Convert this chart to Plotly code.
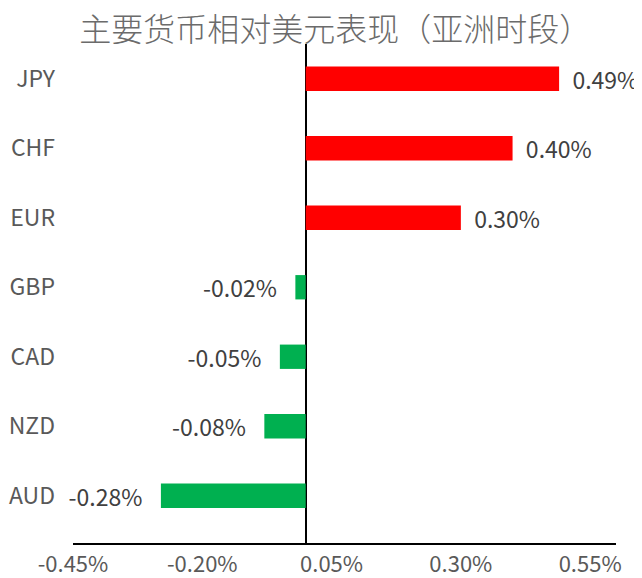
import plotly.graph_objects as go

# currency moves vs USD, Asian session
currencies = ["AUD", "NZD", "CAD", "GBP", "EUR", "CHF", "JPY"]
changes = [-0.28, -0.08, -0.05, -0.02, 0.30, 0.40, 0.49]
x_ticks = [-0.45, -0.20, 0.05, 0.30, 0.55]

colors = ["#FF0000" if v > 0 else "#00B050" for v in changes]
# pad the labels a little away from the bar ends
labels = [("  %.2f%%" % v) if v > 0 else ("%.2f%%   " % v) for v in changes]

font_name = "Noto Sans CJK SC"

# page body has an 8px margin, so the figure is 8px smaller each way
fig = go.Figure()
fig.add_trace(go.Bar(
    x=changes,
    y=currencies,
    orientation="h",
    marker=dict(color=colors, line=dict(width=0)),
    width=0.35,
    text=labels,
    textposition="outside",
    constraintext="none",
    textfont=dict(size=23, color="#404040", family=font_name),
    cliponaxis=False,
    hoverinfo="skip",
))

fig.update_layout(
    width=634,
    height=570,
    margin=dict(l=65, r=26, t=36, b=35, autoexpand=False),
    paper_bgcolor="white",
    plot_bgcolor="white",
    showlegend=False,
    font=dict(family=font_name, color="#595959"),
    title=dict(
        text="主要货币相对美元表现（亚洲时段）",
        x=0.516,
        xanchor="center",
        y=0.961,
        yanchor="middle",
        font=dict(size=32, color="#6b6b6b", family=font_name, weight=300),
    ),
)

fig.update_xaxes(
    range=[-0.45, 0.6],
    tickmode="array",
    tickvals=x_ticks,
    ticktext=["%.2f%%" % v for v in x_ticks],
    tickfont=dict(size=22, color="#595959"),
    showgrid=False,
    zeroline=True,
    zerolinecolor="black",
    zerolinewidth=2,
    showline=True,
    linecolor="black",
    linewidth=2,
    ticks="",
    ticklabelstandoff=1,
    automargin=False,
)

fig.update_yaxes(
    type="category",
    categoryorder="array",
    categoryarray=currencies,
    range=[-0.68, 6.5],
    tickfont=dict(size=23, color="#595959"),
    showgrid=False,
    showline=False,
    ticks="",
    ticklabelstandoff=17,
    automargin=False,
)

fig.write_html("out.html")
